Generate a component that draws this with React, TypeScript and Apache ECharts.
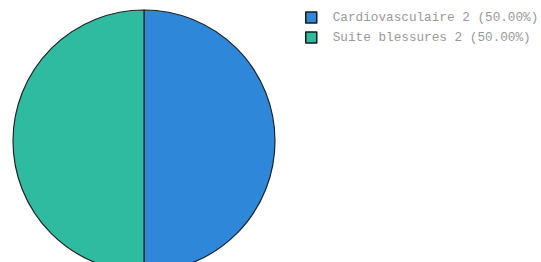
import React, { useEffect, useRef } from "react";
import * as echarts from "echarts";

const categories = ["Cardiovasculaire 2", "Suite blessures 2"];
const values = [1, 1];
const colors = ["#2e87d8", "#2fbba0"];

export default function App() {
  const ref = useRef<HTMLDivElement>(null);
  useEffect(() => {
    const chart = echarts.init(ref.current!, null, { renderer: "svg" });
    const total = values.reduce((a, b) => a + b, 0);
    chart.setOption({
      animation: false,
      legend: {
        orient: "vertical",
        left: 300,
        top: 6,
        itemWidth: 11,
        itemHeight: 11,
        itemGap: 7,
        icon: "rect",
        itemStyle: { borderColor: "#1a1a1a", borderWidth: 1.5 },
        textStyle: { fontFamily: "Liberation Mono", fontSize: 12.7, color: "#999999", padding: [0, 0, 0, 11] },
        formatter: (name: string) => {
          const i = categories.indexOf(name);
          return `${name} (${((values[i] / total) * 100).toFixed(2)}%)`;
        },
        data: categories,
      },
      series: [
        {
          type: "pie",
          center: [144, 141],
          radius: 131,
          startAngle: 90,
          clockwise: true,
          label: { show: false },
          labelLine: { show: false },
          emphasis: { disabled: true },
          itemStyle: { borderColor: "#222", borderWidth: 1.2 },
          data: categories.map((c, i) => ({ name: c, value: values[i], itemStyle: { color: colors[i] } })),
        },
      ],
    });
    return () => chart.dispose();
  }, []);
  return <div ref={ref} style={{ position: "fixed", left: 0, top: 0, width: 541, height: 262, background: "#fff" }} />;
}
